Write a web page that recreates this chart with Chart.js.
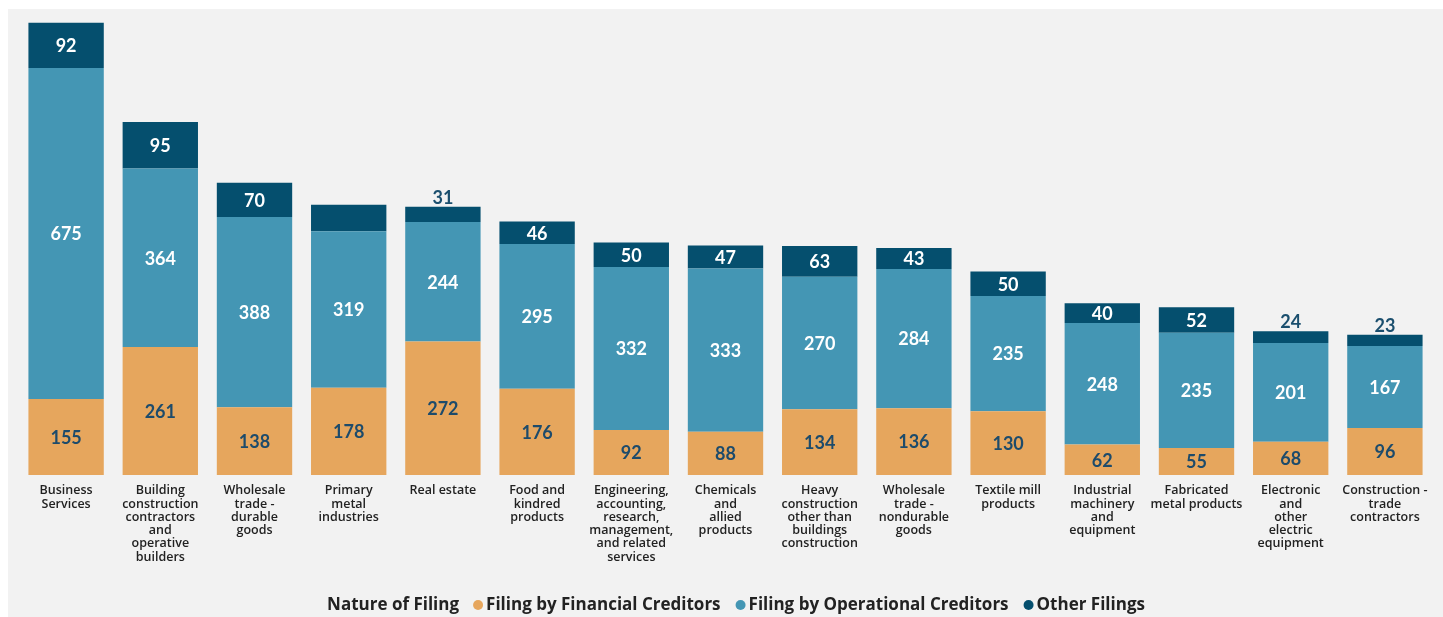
<!DOCTYPE html>
<html>
<head>
<meta charset="utf-8">
<script src="https://cdn.jsdelivr.net/npm/chart.js@4.4.1/dist/chart.umd.min.js"></script>
<style>
  html, body { margin: 0; padding: 0; background: #ffffff; }
  #wrap { position: relative; width: 1443px; height: 617px; }
</style>
</head>
<body>
<div id="wrap"><canvas id="c" width="1443" height="617"></canvas></div>
<script>
const categories = [
  ["Business", "Services"],
  ["Building", "construction", "contractors", "and", "operative", "builders"],
  ["Wholesale", "trade -", "durable", "goods"],
  ["Primary", "metal", "industries"],
  ["Real estate"],
  ["Food and", "kindred", "products"],
  ["Engineering,", "accounting,", "research,", "management,", "and related", "services"],
  ["Chemicals", "and", "allied", "products"],
  ["Heavy", "construction", "other than", "buildings", "construction"],
  ["Wholesale", "trade -", "nondurable", "goods"],
  ["Textile mill", "products"],
  ["Industrial", "machinery", "and", "equipment"],
  ["Fabricated", "metal products"],
  ["Electronic", "and", "other", "electric", "equipment"],
  ["Construction -", "trade", "contractors"]
];
const financialCreditors   = [155, 261, 138, 178, 272, 176, 92, 88, 134, 136, 130, 62, 55, 68, 96];
const operationalCreditors = [675, 364, 388, 319, 244, 295, 332, 333, 270, 284, 235, 248, 235, 201, 167];
const otherFilings         = [92, 95, 70, 54, 31, 46, 50, 47, 63, 43, 50, 40, 52, 24, 23];
const seriesNames = ["Filing by Financial Creditors", "Filing by Operational Creditors", "Other Filings"];
const legendTitle = "Nature of Filing";
const hiddenLabels = [[2, 3]]; // [datasetIndex, index] labels not shown in the reference

const COLORS = ["#e6a65d", "#4496b4", "#054f6e"];
const FONT = "Lato, 'Open Sans', sans-serif";
const TFONT = "'Open Sans', Lato, sans-serif";

const bgPlugin = {
  id: 'bg',
  beforeDraw(chart) {
    const ctx = chart.ctx;
    ctx.save();
    ctx.fillStyle = '#f2f2f2';
    ctx.fillRect(8, 9, chart.width - 8, chart.height - 9);
    ctx.restore();
  }
};

const labelPlugin = {
  id: 'segLabels',
  afterDatasetsDraw(chart) {
    const ctx = chart.ctx;
    ctx.save();
    ctx.font = "bold 18px " + FONT;
    ctx.textAlign = 'center';
    chart.data.datasets.forEach((ds, di) => {
      const meta = chart.getDatasetMeta(di);
      meta.data.forEach((el, i) => {
        if (hiddenLabels.some(h => h[0] === di && h[1] === i)) return;
        const v = ds.data[i];
        const top = Math.min(el.y, el.base), bot = Math.max(el.y, el.base);
        const h = bot - top;
        if (di === 2 && h < 18) {
          ctx.fillStyle = '#1b4f6e';
          ctx.textBaseline = 'alphabetic';
          ctx.fillText(String(v), el.x, top - 3);
        } else {
          ctx.fillStyle = di === 0 ? '#1d4b6b' : '#ffffff';
          ctx.textBaseline = 'middle';
          ctx.fillText(String(v), el.x, (top + bot) / 2 + 1);
        }
      });
    });
    ctx.restore();
  }
};

const legendPlugin = {
  id: 'customLegend',
  afterDraw(chart) {
    const ctx = chart.ctx;
    ctx.save();
    ctx.font = "bold 17px " + TFONT;
    ctx.textBaseline = 'middle';
    ctx.textAlign = 'left';
    const y = 605;
    const gapTitle = 14, dotR = 5, dotGap = 3, itemGap = 15;
    const names = chart.data.datasets.map(d => d.label);
    let total = ctx.measureText(legendTitle).width + gapTitle;
    names.forEach((n, i) => {
      total += dotR * 2 + dotGap + ctx.measureText(n).width + (i < names.length - 1 ? itemGap : 0);
    });
    let x = 736 - total / 2;
    ctx.fillStyle = '#222222';
    ctx.fillText(legendTitle, x, y);
    x += ctx.measureText(legendTitle).width + gapTitle;
    names.forEach((n, i) => {
      ctx.fillStyle = chart.data.datasets[i].backgroundColor;
      ctx.beginPath();
      ctx.arc(x + dotR, y, dotR, 0, Math.PI * 2);
      ctx.fill();
      x += dotR * 2 + dotGap;
      ctx.fillStyle = '#222222';
      ctx.fillText(n, x, y);
      x += ctx.measureText(n).width + itemGap;
    });
    ctx.restore();
  }
};

new Chart(document.getElementById('c'), {
  type: 'bar',
  data: {
    labels: categories,
    datasets: [
      { label: seriesNames[0], data: financialCreditors, backgroundColor: COLORS[0] },
      { label: seriesNames[1], data: operationalCreditors, backgroundColor: COLORS[1] },
      { label: seriesNames[2], data: otherFilings, backgroundColor: COLORS[2] }
    ]
  },
  options: {
    responsive: false,
    animation: false,
    devicePixelRatio: 1,
    layout: { padding: { left: 19, right: 11, top: 14, bottom: 0 } },
    datasets: { bar: { categoryPercentage: 1.0, barPercentage: 0.8, borderWidth: 0 } },
    plugins: { legend: { display: false }, tooltip: { enabled: false } },
    scales: {
      x: {
        stacked: true,
        grid: { display: false, drawTicks: false },
        border: { display: false },
        ticks: {
          color: '#222222',
          font: { family: TFONT, size: 12.5, weight: '600', lineHeight: 1.065 },
          padding: 9,
          maxRotation: 0,
          autoSkip: false
        },
        afterFit(scale) { scale.height = 142; }
      },
      y: {
        stacked: true,
        display: false,
        min: 0,
        max: 940
      }
    }
  },
  plugins: [bgPlugin, labelPlugin, legendPlugin]
});
</script>
</body>
</html>
